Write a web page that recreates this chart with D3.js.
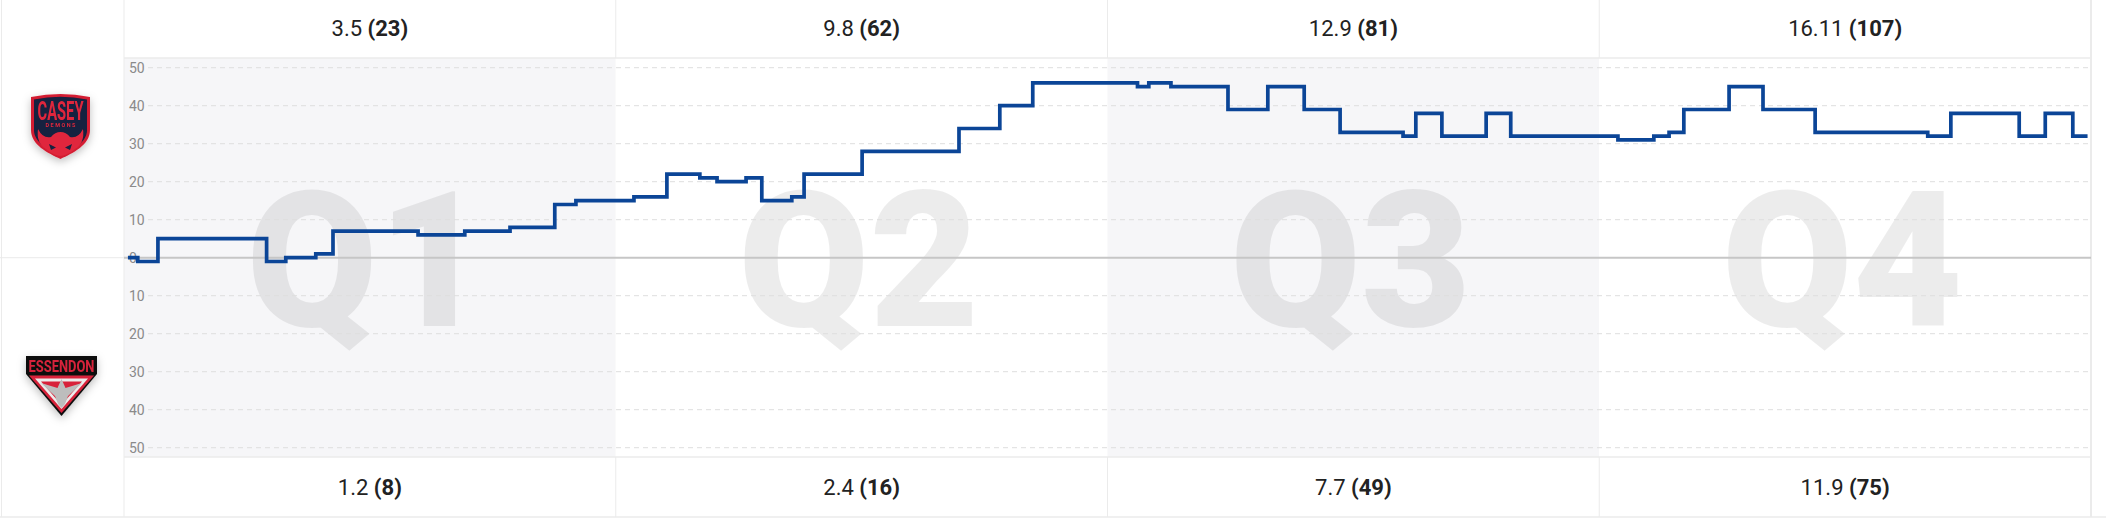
<!DOCTYPE html>
<head>
    <meta charset="utf-8">
    <script src="https://d3js.org/d3.v7.min.js"></script>
    <style>
      body { margin: 0; background: #fff; }
      text { font-family: Roboto, "Noto Sans", sans-serif; }
      .score { font-size: 22px; fill: #222; }
      .ticklabel { font-size: 14px; fill: #8a8a8a; }
      .qlabel { font-size: 190px; font-weight: 900; fill: #000; fill-opacity: 0.075; }
    </style>
<body>
    <script>
        // chart data
        var quarters = ["Q1", "Q2", "Q3", "Q4"]
        var caseyGoalsBehinds = ["3.5", "9.8", "12.9", "16.11"]
        var caseyTotals = [23, 62, 81, 107]
        var essendonGoalsBehinds = ["1.2", "2.4", "7.7", "11.9"]
        var essendonTotals = [8, 16, 49, 75]
        var yTicks = [50, 40, 30, 20, 10, 0, -10, -20, -30, -40, -50]
        // game progress in quarters (0..4) at each scoring event
        var eventTimes = [0.008, 0.028, 0.069, 0.290, 0.329, 0.390, 0.425, 0.598, 0.693, 0.785, 0.876, 0.919,
                          1.037, 1.104, 1.171, 1.206, 1.265, 1.297, 1.358, 1.383, 1.501, 1.698, 1.781, 1.848,
                          2.061, 2.084, 2.129, 2.245, 2.326, 2.400, 2.473, 2.601, 2.627, 2.680, 2.770, 2.820,
                          3.038, 3.111, 3.142, 3.172, 3.264, 3.333, 3.439, 3.668, 3.715, 3.854, 3.907, 3.963, 3.993]
        // margin (Casey minus Essendon) after each event
        var margins = [0, -1, 5, -1, 0, 1, 7, 6, 7, 8, 14, 15,
                       16, 22, 21, 20, 21, 15, 16, 22, 28, 34, 40, 46,
                       45, 46, 45, 39, 45, 39, 33, 32, 38, 32, 38, 32,
                       31, 32, 33, 39, 45, 39, 33, 32, 38, 32, 38, 32, 32]

        var svg_w = 2106
        var svg_h = 530
        var leftCol = 124
        var rightEdge = 2091
        var headerBottom = 58
        var plotBottom = 457
        var tableBottom = 517
        var borderColor = "#ebebeb"

        var svg = d3.select("body")
          .append("svg")
          .attr("width", svg_w)
          .attr("height", svg_h)

        var defs = svg.append("defs")
        defs.append("filter")
          .attr("id", "shadow")
          .attr("x", "-50%").attr("y", "-50%").attr("width", "200%").attr("height", "200%")
          .append("feDropShadow")
          .attr("dx", 0).attr("dy", 3).attr("stdDeviation", 4)
          .attr("flood-color", "#000").attr("flood-opacity", 0.25)

        var x = d3.scaleLinear().domain([0, 4]).range([leftCol, rightEdge])
        var y = d3.scaleLinear().domain([-50, 50]).range([447.7, 67.7])
        var band = d3.scaleBand().domain(quarters).range([leftCol, rightEdge])

        // quarter backgrounds
        svg.selectAll(".qbg")
          .data(quarters)
          .enter()
          .append("rect")
          .classed("qbg", true)
          .attr("x", function(d) { return band(d) })
          .attr("y", headerBottom)
          .attr("width", band.bandwidth())
          .attr("height", plotBottom - headerBottom)
          .attr("fill", function(d, i) { return i % 2 == 0 ? "#f6f6f8" : "#ffffff" })

        // big quarter labels
        svg.selectAll(".qlabel")
          .data(quarters)
          .enter()
          .append("text")
          .classed("qlabel", true)
          .attr("x", function(d) { return band(d) + band.bandwidth() / 2 - 3 })
          .attr("y", y(0) + 68)
          .attr("text-anchor", "middle")
          .text(function(d) { return d })

        // table borders
        var borders = svg.append("g").attr("stroke", borderColor).attr("stroke-width", 1)
        borders.append("line").attr("x1", 1.5).attr("x2", 1.5).attr("y1", 0).attr("y2", tableBottom)
        borders.append("line").attr("x1", leftCol).attr("x2", leftCol).attr("y1", 0).attr("y2", tableBottom)
        borders.append("line").attr("x1", rightEdge).attr("x2", rightEdge).attr("y1", 0).attr("y2", tableBottom).attr("stroke-width", 2)
        borders.append("line").attr("x1", leftCol).attr("x2", rightEdge).attr("y1", headerBottom).attr("y2", headerBottom).attr("stroke-width", 1.5)
        borders.append("line").attr("x1", leftCol).attr("x2", rightEdge).attr("y1", plotBottom).attr("y2", plotBottom).attr("stroke-width", 1.5)
        borders.append("line").attr("x1", 0).attr("x2", svg_w).attr("y1", tableBottom).attr("y2", tableBottom).attr("stroke-width", 1.5)
        borders.append("line").attr("x1", 0).attr("x2", leftCol).attr("y1", y(0)).attr("y2", y(0))
        borders.selectAll(".qsep")
          .data(quarters.slice(1))
          .enter()
          .append("g")
          .each(function(d) {
            var g = d3.select(this)
            g.append("line").attr("x1", band(d)).attr("x2", band(d)).attr("y1", 0).attr("y2", headerBottom)
            g.append("line").attr("x1", band(d)).attr("x2", band(d)).attr("y1", plotBottom).attr("y2", tableBottom)
          })

        // gridlines + tick labels
        svg.selectAll(".grid")
          .data(yTicks.filter(function(d) { return d != 0 }))
          .enter()
          .append("line")
          .classed("grid", true)
          .attr("x1", 148)
          .attr("x2", 2088)
          .attr("y1", function(d) { return y(d) })
          .attr("y2", function(d) { return y(d) })
          .attr("stroke", "#dedede")
          .attr("stroke-dasharray", "5,4")

        svg.selectAll(".ticklabel")
          .data(yTicks)
          .enter()
          .append("text")
          .classed("ticklabel", true)
          .attr("x", 129)
          .attr("y", function(d) { return y(d) })
          .attr("dy", "0.35em")
          .text(function(d) { return Math.abs(d) })

        svg.append("line")
          .attr("x1", leftCol)
          .attr("x2", rightEdge)
          .attr("y1", y(0))
          .attr("y2", y(0))
          .attr("stroke", "#c6c6c6")
          .attr("stroke-width", 2)

        // margin line
        var marginLine = d3.line()
          .x(function(d, i) { return x(eventTimes[i]) })
          .y(function(d) { return y(d) })
          .curve(d3.curveStepAfter)

        svg.append("path")
          .datum(margins)
          .attr("d", marginLine)
          .attr("fill", "none")
          .attr("stroke", "#0b4597")
          .attr("stroke-width", 3.7)

        // scores per quarter
        function scoreRow(gb, totals, ty) {
          var t = svg.selectAll(null)
            .data(quarters)
            .enter()
            .append("text")
            .classed("score", true)
            .attr("x", function(d) { return band(d) + band.bandwidth() / 2 })
            .attr("y", ty)
            .attr("text-anchor", "middle")
          t.append("tspan").text(function(d, i) { return gb[i] + " " })
          t.append("tspan").attr("font-weight", "bold").text(function(d, i) { return "(" + totals[i] + ")" })
        }
        scoreRow(caseyGoalsBehinds, caseyTotals, 36)
        scoreRow(essendonGoalsBehinds, essendonTotals, 495)

        // Casey Demons badge
        var casey = svg.append("g")
          .attr("transform", "translate(31,93)")
          .attr("filter", "url(#shadow)")
        casey.append("path")
          .attr("d", "M0,4 Q29.5,-2 59,4 L59,37 C59,52 42,60 29.5,66 C17,60 0,52 0,37 Z")
          .attr("fill", "#d31f33")
        casey.append("path")
          .attr("d", "M3,6.5 Q29.5,1 56,6.5 L56,37 C56,50 40,58 29.5,62.5 C19,58 3,50 3,37 Z")
          .attr("fill", "#15203f")
        casey.append("text")
          .attr("x", 29.5).attr("y", 26.5)
          .attr("text-anchor", "middle")
          .attr("font-family", "Liberation Sans Narrow, DejaVu Sans Condensed, sans-serif")
          .attr("font-weight", "bold")
          .attr("font-size", 26)
          .attr("textLength", 46)
          .attr("lengthAdjust", "spacingAndGlyphs")
          .attr("fill", "#e0283c")
          .text("CASEY")
        casey.append("text")
          .attr("x", 29.5).attr("y", 34)
          .attr("text-anchor", "middle")
          .attr("font-size", 5.5)
          .attr("font-weight", "bold")
          .attr("textLength", 30)
          .attr("fill", "#e0283c")
          .text("DEMONS")
        casey.append("path")
          .attr("d", "M7,36 Q12,46 20,44 Q24,39 29.5,39 Q35,39 39,44 Q47,46 52,36 Q54,50 44,56 Q37,62 29.5,63 Q22,62 15,56 Q5,50 7,36 Z")
          .attr("fill", "#e0283c")
        casey.append("path")
          .attr("d", "M18,51 L25,54.5 L20,57 Z M41,51 L34,54.5 L39,57 Z")
          .attr("fill", "#15203f")

        // Essendon badge
        var ess = svg.append("g")
          .attr("transform", "translate(26,356)")
          .attr("filter", "url(#shadow)")
        ess.append("path")
          .attr("d", "M0,0 L71,0 L71,18 L35.5,60 L0,18 Z")
          .attr("fill", "#111")
        ess.append("text")
          .attr("x", 35.5).attr("y", 15.7)
          .attr("text-anchor", "middle")
          .attr("font-family", "Liberation Sans Narrow, DejaVu Sans Condensed, sans-serif")
          .attr("font-weight", "bold")
          .attr("font-size", 17)
          .attr("textLength", 66)
          .attr("lengthAdjust", "spacingAndGlyphs")
          .attr("fill", "#d8243a")
          .text("ESSENDON")
        ess.append("path").attr("d", "M3,19.5 L68,19.5 L35.5,57 Z").attr("fill", "#d8243a")
        ess.append("path").attr("d", "M9,22.5 L62,22.5 L35.5,53 Z").attr("fill", "#ececec")
        ess.append("path").attr("d", "M15,25.5 L56,25.5 L35.5,49 Z").attr("fill", "#d8243a")
        ess.append("path")
          .attr("d", "M35.5,23 L39.5,32 L56,27 L42,40 L39,48 L35.5,52 L32,48 L29,40 L15,27 L31.5,32 Z")
          .attr("fill", "#bdbdbd")
    </script>
</body>
